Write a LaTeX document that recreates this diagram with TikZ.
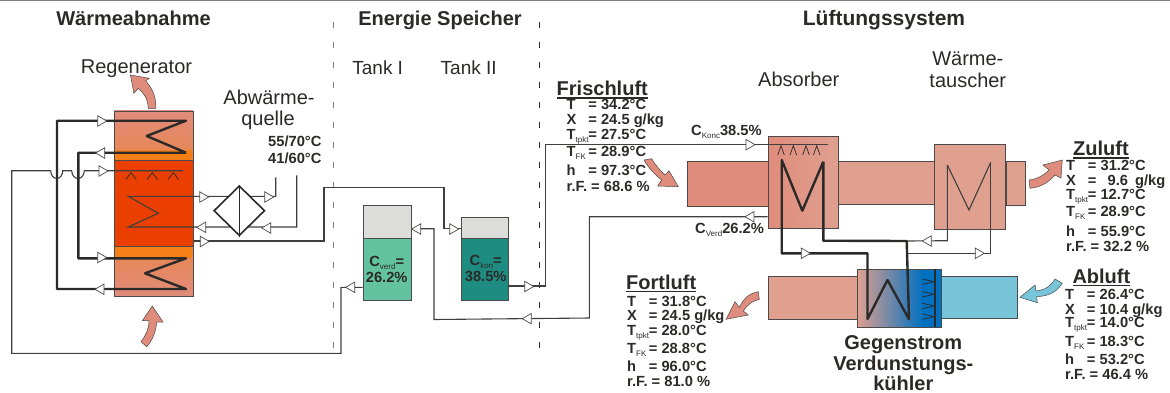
\documentclass[tikz,border=0pt]{standalone}
\usepackage{fontspec}
\setmainfont{Liberation Sans}
\usepackage{tikz}
\usetikzlibrary{positioning,shapes.geometric}

\definecolor{ink}{HTML}{2B2A29}
\definecolor{salmon}{HTML}{E08C7C}
\definecolor{duct}{HTML}{DFA090}
\definecolor{band}{HTML}{F57F17}
\definecolor{hot}{HTML}{EA3F00}
\definecolor{cool}{HTML}{78C5DA}
\definecolor{wet}{HTML}{0070C0}
\definecolor{tankair}{HTML}{DCDCDA}
\definecolor{tankverd}{HTML}{63C2A0}
\definecolor{tankkon}{HTML}{1E8C80}

\newcommand{\sublbl}[1]{\raisebox{-3pt}{\fontsize{8}{8}\mdseries\selectfont #1}}
\newcommand{\rowlbl}[2]{\makebox[21.7pt][l]{#1}#2}
\newcommand{\headlbl}[1]{\vtop{\hbox{#1}\kern1.2pt\hrule height 1.5pt}}

\begin{document}
\begin{tikzpicture}[x=1pt,y=-1pt,line join=miter,text=ink]
	\tikzstyle{box}=[draw=ink!85,line width=0.9pt,inner sep=0pt,anchor=north west]
	\tikzstyle{pipe}=[draw=ink!90,line width=1.1pt]
	\tikzstyle{coil}=[draw=ink,line width=2.4pt,line join=round]
	\tikzstyle{spray}=[draw=ink,line width=0.7pt]
	\tikzstyle{tipr}=[isosceles triangle,isosceles triangle stretches,minimum width=10.5pt,minimum height=9pt,inner sep=0pt,draw=ink!85,fill=white,line width=0.7pt]
	\tikzstyle{tipl}=[tipr,shape border rotate=180]
	\tikzstyle{blockarrow}=[draw=ink!85,line width=0.5pt,fill=salmon]
	\tikzstyle{head}=[font=\bfseries\fontsize{20}{24}\selectfont,inner sep=0pt,anchor=base]
	\tikzstyle{lab}=[font=\fontsize{20}{24}\selectfont,inner sep=0pt,anchor=base]
	\tikzstyle{tanklab}=[font=\fontsize{19}{22}\selectfont,inner sep=0pt,anchor=base]
	\tikzstyle{datarow}=[font=\bfseries\fontsize{14.7}{16}\selectfont,inner sep=0pt,anchor=base west]
	\tikzstyle{datamid}=[datarow,anchor=base]

	\useasboundingbox (0,0) rectangle (1170,392);
	\draw[draw=gray,line width=1.2pt] (0,0.6) -- (1170,0.6);

	% Trennlinien
	\draw[draw=gray,line width=1pt,dash pattern=on 5.5pt off 14.5pt] (333.5,22) -- (333.5,361);
	\draw[draw=ink,line width=1pt,dash pattern=on 5.5pt off 14.5pt] (539.5,22) -- (539.5,361);

	% Regenerator
	\node[box,minimum width=78.5pt,minimum height=49.5pt,top color=salmon,bottom color=band!45!salmon] (regtop) at (114,110.5) {};
	\node[box,draw=none,minimum width=77.5pt,minimum height=10pt,fill=band] (regband1) at (114.5,150) {};
	\node[box,minimum width=78.5pt,minimum height=86pt,fill=hot] (regmid) at (114,160) {};
	\node[box,minimum width=78.5pt,minimum height=50pt,top color=band!45!salmon,bottom color=salmon] (regbot) at (114,246) {};
	\node[box,draw=none,minimum width=77.5pt,minimum height=11pt,fill=band] (regband2) at (114.5,246.5) {};
	\draw[draw=ink!85,line width=0.9pt] (regbot.north west) -- (regbot.north east);

	% Lueftung
	\node[box,minimum width=81pt,minimum height=44.7pt,fill=salmon] (ductin) at (686.7,161.3) {};
	\node[box,minimum width=96.5pt,minimum height=43pt,fill=duct] (ductmid) at (838,161.3) {};
	\node[box,minimum width=70.3pt,minimum height=92.3pt,left color=salmon,right color=duct] (absorber) at (767.7,136) {};
	\node[box,minimum width=70.7pt,minimum height=84.4pt,fill=duct] (hxair) at (934.3,144.3) {};
	\node[box,minimum width=19pt,minimum height=43.7pt,fill=duct] (ductout) at (1005.7,161.3) {};
	\node[box,minimum width=89pt,minimum height=43pt,fill=duct] (ductfort) at (767.7,276.3) {};
	\node[box,minimum width=76pt,minimum height=42pt,fill=cool] (ductab) at (940.7,276.3) {};
	\node[box,draw=none,minimum width=66pt,minimum height=57.7pt,left color=duct,right color=wet] (coolgrad) at (856.7,269) {};
	\node[box,draw=none,minimum width=19pt,minimum height=57.7pt,fill=wet] (coolwet) at (921.7,269) {};
	\node[box,fill=none,minimum width=84pt,minimum height=57.7pt] (cooler) at (856.7,269) {};
	\draw[draw=ink,line width=1.2pt] (935,269) -- (935,326.7);

	% Tanks
	\node[box,minimum width=48.3pt,minimum height=95.6pt,fill=tankair] (tank1) at (362.7,204.7) {};
	\node[box,minimum width=48.3pt,minimum height=62pt,fill=tankverd] (verd) at (362.7,238.3) {};
	\node[box,minimum width=47.6pt,minimum height=83pt,fill=tankair] (tank2) at (460.7,217.3) {};
	\node[box,minimum width=47.6pt,minimum height=62pt,fill=tankkon] (kon) at (460.7,238.3) {};

	% Leitungen
	\coordinate (sprayend) at (183,170.7);
	\coordinate (sprayin) at (362.7,287.3);
	\coordinate (regout) at (192.7,241);
	\coordinate (t2in) at (460.7,228.7);
	\coordinate (t1out) at (411,228.7);
	\coordinate (t2out) at (508.3,286);
	\coordinate (absin) at (827.7,144.3);
	\coordinate (absout) at (767.7,216.7);
	\coordinate (hx1) at (947.3,165);
	\coordinate (hx2) at (969,210);
	\coordinate (hx3) at (990.7,162.3);
	\coordinate (hxa) at (906.7,241);
	\coordinate (hxb) at (906.7,253.5);
	\coordinate (warm1) at (275.7,177.3);
	\coordinate (warm2) at (296.7,175.3);
	\draw[pipe] (sprayin) -- (341,287.3) -- (341,353.3) -- (11.7,353.3) -- (11.7,170.7) -- (50.7,170.7) .. controls (51,181) and (62.5,181) .. (62.7,170.7) -- (71.7,170.7) .. controls (72,181) and (84,181) .. (84.3,170.7) -- (sprayend);
	\draw[pipe] (regout) -- (324,241) -- (324,187.7) -- (444,187.7) -- (444,228.7) -- (t2in);
	\draw[pipe] (t1out) -- (434,228.7) -- (434,319.5) -- (589.3,318) -- (589.3,216.7) -- (absout);
	\draw[pipe] (t2out) -- (545.5,286) -- (545.5,144.3) -- (absin);
	\draw[pipe] (hx1) -- (947.3,240.7) -- (hxa);
	\draw[pipe] (hx3) -- (990.7,253.5) -- (hxb);
	\draw[pipe] (hx1) -- (hx2) -- (hx3);

	% Heizwasser
	\draw[pipe] (warm1) -- (275.7,196.3) -- (128.3,196.3) -- (158.3,213.3) -- (128.3,227) -- (296.7,227) -- (warm2);
	\node[diamond,draw=ink,fill=white,line width=1.6pt,inner sep=0pt,minimum width=51pt,minimum height=50pt] (hxwater) at (239.3,210.7) {};
	\draw[draw=ink,line width=1.6pt] (hxwater.north) -- (hxwater.south);

	% Waermeruecklauf Regenerator
	\coordinate (rega) at (186,120.7);
	\coordinate (regb) at (186,152.7);
	\coordinate (regc) at (186,258.3);
	\coordinate (regd) at (186,289);
	\draw[coil] (regb) -- (146.7,136) -- (rega) -- (57,120.7) -- (57,289) -- (regd) -- (145,273.3) -- (regc) -- (78.3,258.3) -- (78.3,152.7) -- (regb);

	% Absorber und Verdunstungskuehler
	\coordinate (absa) at (781.7,160);
	\coordinate (absb) at (823.3,161.7);
	\draw[coil] (absb) -- (802.3,210.7) -- (absa) -- (781.7,253.3) -- (867.5,253.3) -- (867.5,319) -- (887.5,280) -- (909,319.3) -- (hxa) -- (823.3,240.7) -- (absb);

	% Duesen
	\draw[spray] (126,179.5) -- (131,172.7) -- (136.3,179.5);
	\draw[spray] (147,179.5) -- (152.3,172.7) -- (157.6,179.5);
	\draw[spray] (168,179.5) -- (173.3,172.7) -- (178.6,179.5);
	\draw[spray] (777.7,155) -- (781,145.7) -- (784.3,155);
	\draw[spray] (790,155) -- (793.3,145.7) -- (796.6,155);
	\draw[spray] (802.7,155) -- (806,145.7) -- (809.3,155);
	\draw[spray] (813.4,155) -- (816.7,145.7) -- (820,155);
	\draw[spray] (922.3,279) -- (934.3,281.7) -- (922.3,284.4);
	\draw[spray] (922.3,291.6) -- (934.3,294.3) -- (922.3,297);
	\draw[spray] (922.3,303.3) -- (934.3,306) -- (922.3,308.7);
	\draw[spray] (922.3,314) -- (934.3,316.7) -- (922.3,319.4);

	% Pfeilspitzen
	\node[tipr] (p1) at (100.7,121) {};
	\node[tipl] (p2) at (101.7,153) {};
	\node[tipr] (p3) at (100.7,257.5) {};
	\node[tipl] (p4) at (101,289.3) {};
	\node[tipr] (p5) at (102,171) {};
	\node[tipr] (p6) at (202.7,197) {};
	\node[tipl] (p7) at (202.7,227.3) {};
	\node[tipr] (p8) at (267.7,197) {};
	\node[tipl] (p9) at (267.7,228) {};
	\node[tipr] (p10) at (203.3,241.5) {};
	\node[tipl] (p11) at (351.7,287.3) {};
	\node[tipr] (p12) at (452.7,229) {};
	\node[tipl] (p13) at (417.7,229) {};
	\node[tipr] (p14) at (527.7,286.5) {};
	\node[tipl] (p15) at (528.3,318.7) {};
	\node[tipr] (p16) at (749,144.7) {};
	\node[tipl] (p17) at (751,216.7) {};
	\node[tipr] (p18) at (804.3,253.3) {};
	\node[tipl] (p19) at (928.3,241) {};
	\node[tipr] (p20) at (978.3,253.3) {};

	% Luftpfeile
	\draw[blockarrow] (130.4,75) -- (149.3,78.3) -- (145.7,81) .. controls (153,89) and (156,97) .. (156,108.3) -- (148.2,108.3) .. controls (148,99) and (144,93) .. (138.2,88.3) -- (133.9,93.3) -- cycle;
	\draw[blockarrow] (152.3,306) -- (163,322) -- (156.7,322) .. controls (156,332) and (152,341) .. (146.7,346.7) -- (141,341.7) .. controls (146,335) and (149,329) .. (149,320.7) -- (142.3,320.7) -- cycle;
	\draw[blockarrow] (678.3,186.7) -- (657.7,186) -- (661.7,180) .. controls (654,174) and (648,167) .. (644,160) -- (651.7,158.7) .. controls (655,165) and (660,170) .. (665,175) -- (669,170.7) -- cycle;
	\draw[blockarrow] (1062.3,160) -- (1061,178) -- (1055,175) .. controls (1047,184) and (1040,187) .. (1030,188.3) -- (1029,180) .. controls (1037,179) and (1043,176) .. (1049,170) -- (1043,165) -- cycle;
	\draw[blockarrow] (726,319.3) -- (735,301.7) -- (739.3,307.3) .. controls (745,296) and (751,293) .. (758.3,291.7) -- (759.3,299.3) .. controls (752,301) and (747,305) .. (743.3,311) -- (748.3,315) -- cycle;
	\draw[blockarrow,fill=cool] (1020,297.3) -- (1035,285) -- (1036,291) .. controls (1045,290) and (1051,286) .. (1055,279) -- (1062.3,283.3) .. controls (1056,293) and (1048,296) .. (1036.7,296.7) -- (1037.3,302.7) -- cycle;

	% Ueberschriften
	\node[head] (waerme) at (133.5,25) {Wärmeabnahme};
	\node[head] (speicher) at (440,25) {Energie Speicher};
	\node[head,font=\bfseries\fontsize{21}{24}\selectfont] (lueftung) at (884,25) {Lüftungssystem};
	\node[lab] (regen) at (136.5,73.3) {Regenerator};
	\node[tanklab] (tanka) at (377.7,74) {Tank I};
	\node[tanklab] (tankb) at (468.7,74) {Tank II};
	\node[lab] (abw1) at (269,104.5) {Abwärme-};
	\node[lab] (abw2) at (268,125.5) {quelle};
	\node[datarow] (temp1) at (268,146.5) {55/70°C};
	\node[datarow] (temp2) [below=16.5pt of temp1.base west,anchor=base west] {41/60°C};
	\node[lab] (absl) at (798.8,86) {Absorber};
	\node[lab] (hxl1) at (967.8,65) {Wärme-};
	\node[lab] (hxl2) at (967.8,87.3) {tauscher};
	\node[datarow] (ckonc) at (691,135) {C\sublbl{Konc}38.5\%};
	\node[datarow] (cverd) at (695,233.5) {C\sublbl{Verd}26.2\%};
	\node[datamid] (ctank1a) at (386.7,266.7) {C\sublbl{verd}=};
	\node[datamid] (ctank1b) [below=15.6pt of ctank1a.base,anchor=base] {26.2\%};
	\node[datamid] (ctank2a) at (485.7,265) {C\sublbl{kon}=};
	\node[datamid] (ctank2b) [below=16.7pt of ctank2a.base,anchor=base] {38.5\%};
	\node[head] (gegen1) at (903.3,349.5) {Gegenstrom};
	\node[head] (gegen2) [below=20.5pt of gegen1.base,anchor=base] {Verdunstungs-};
	\node[head] (gegen3) [below=20.5pt of gegen2.base,anchor=base] {kühler};

	% Frischluft
	\node[head,anchor=base west] (fr0) at (556.5,95.7) {\headlbl{Frischluft}};
	\node[datarow] (fr1) at (566.5,109) {\rowlbl{T}{= 34.2°C}};
	\node[datarow] (fr2) [below=15.3pt of fr1.base west,anchor=base west] {\rowlbl{X}{= 24.5 g/kg}};
	\node[datarow] (fr3) [below=14.7pt of fr2.base west,anchor=base west] {\rowlbl{T\sublbl{tpkt}}{= 27.5°C}};
	\node[datarow] (fr4) [below=17.3pt of fr3.base west,anchor=base west] {\rowlbl{T\sublbl{FK}}{= 28.9°C}};
	\node[datarow] (fr5) [below=18.7pt of fr4.base west,anchor=base west] {\rowlbl{h}{= 97.3°C}};
	\node[datarow] (fr6) [below=16pt of fr5.base west,anchor=base west] {r.F. = 68.6 \%};

	% Zuluft
	\node[head,anchor=base west] (zu0) at (1073,155.7) {\headlbl{Zuluft}};
	\node[datarow] (zu1) at (1066,170) {\rowlbl{T}{= 31.2°C}};
	\node[datarow] (zu2) [below=15pt of zu1.base west,anchor=base west] {\rowlbl{X}{= \hspace{7pt}9.6\hspace{3pt} g/kg}};
	\node[datarow] (zu3) [below=14pt of zu2.base west,anchor=base west] {\rowlbl{T\sublbl{tpkt}}{= 12.7°C}};
	\node[datarow] (zu4) [below=17pt of zu3.base west,anchor=base west] {\rowlbl{T\sublbl{FK}}{= 28.9°C}};
	\node[datarow] (zu5) [below=20pt of zu4.base west,anchor=base west] {\rowlbl{h}{= 55.9°C}};
	\node[datarow] (zu6) [below=15pt of zu5.base west,anchor=base west] {r.F. = 32.2 \%};

	% Fortluft
	\node[head,anchor=base west] (fo0) at (626,289.3) {\headlbl{Fortluft}};
	\node[datarow] (fo1) at (627,306) {\rowlbl{T}{= 31.8°C}};
	\node[datarow] (fo2) [below=14.7pt of fo1.base west,anchor=base west] {\rowlbl{X}{= 24.5 g/kg}};
	\node[datarow] (fo3) [below=14.3pt of fo2.base west,anchor=base west] {\rowlbl{T\sublbl{tpkt}}{= 28.0°C}};
	\node[datarow] (fo4) [below=18.3pt of fo3.base west,anchor=base west] {\rowlbl{T\sublbl{FK}}{= 28.8°C}};
	\node[datarow] (fo5) [below=18.4pt of fo4.base west,anchor=base west] {\rowlbl{h}{= 96.0°C}};
	\node[datarow] (fo6) [below=14.3pt of fo5.base west,anchor=base west] {r.F. = 81.0 \%};

	% Abluft
	\node[head,anchor=base west] (ab0) at (1072.3,283.3) {\headlbl{Abluft}};
	\node[datarow] (ab1) at (1065,299) {\rowlbl{T}{= 26.4°C}};
	\node[datarow] (ab2) [below=15pt of ab1.base west,anchor=base west] {\rowlbl{X}{= 10.4 g/kg}};
	\node[datarow] (ab3) [below=13.7pt of ab2.base west,anchor=base west] {\rowlbl{T\sublbl{tpkt}}{= 14.0°C}};
	\node[datarow] (ab4) [below=19pt of ab3.base west,anchor=base west] {\rowlbl{T\sublbl{FK}}{= 18.3°C}};
	\node[datarow] (ab5) [below=17.6pt of ab4.base west,anchor=base west] {\rowlbl{h}{= 53.2°C}};
	\node[datarow] (ab6) [below=14.7pt of ab5.base west,anchor=base west] {r.F. = 46.4 \%};
\end{tikzpicture}
\end{document}
